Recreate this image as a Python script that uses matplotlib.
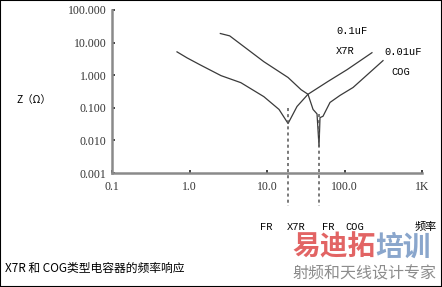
import numpy as np
import matplotlib.pyplot as plt
from matplotlib.patches import Rectangle

# impedance curves (frequency in MHz, |Z| in ohm)
x7r_freq = [0.69, 0.93, 1.36, 2.55, 4.6, 9.1, 14.3, 18.7, 24.4, 33.8, 61, 108, 226]
x7r_z = [5.2, 3.4, 2.1, 0.97, 0.59, 0.22, 0.089, 0.033, 0.11, 0.26, 0.64, 1.48, 4.9]

cog_freq = [2.5, 3.3, 9.1, 18.7, 27.5, 33.8, 39.3, 44.2, 46.9, 48.3, 52.8, 65, 87.5, 129, 314]
cog_z = [19.0, 16.1, 2.6, 0.85, 0.36, 0.26, 0.089, 0.065, 0.0066, 0.05, 0.055, 0.146, 0.24, 0.42, 2.8]

fr_x7r = 18.7
fr_cog = 46.9

xticks = [0.1, 1, 10, 100, 1000]
xtick_labels = ["0.1", "1.0", "10.0", "100.0", "1K"]
yticks = [0.001, 0.01, 0.1, 1, 10, 100]
ytick_labels = ["0.001", "0.010", "0.100", "1.000", "10.000", "100.000"]

CJK = ["Noto Sans CJK SC", "DejaVu Sans"]
MONO = "Liberation Mono"
SERIF = "Liberation Serif"

fig = plt.figure(figsize=(4.42, 2.87), dpi=100)
fig.patch.set_facecolor("white")
ax = fig.add_axes([112 / 442, 1 - 173 / 287, 310 / 442, 163 / 287])

ax.plot(x7r_freq, x7r_z, color="#3a3a3a", lw=0.9)
ax.plot(cog_freq, cog_z, color="#3a3a3a", lw=0.9)

# resonance markers, running below the axis
ax.plot([fr_x7r, fr_x7r], [0.1, 1e-4], color="#555555", lw=1.1,
        ls=(0, (2, 2)), clip_on=False)
ax.plot([fr_cog, fr_cog], [0.065, 1e-4], color="#555555", lw=1.1,
        ls=(0, (2, 2)), clip_on=False)

ax.set_xscale("log")
ax.set_yscale("log")
ax.set_xlim(0.1, 1000)
ax.set_ylim(0.001, 100)
ax.set_xticks(xticks)
ax.set_xticklabels(xtick_labels, fontfamily=SERIF, fontsize=8.5, color="#333333")
ax.set_yticks(yticks)
ax.set_yticklabels(ytick_labels, fontfamily=SERIF, fontsize=8.5, color="#333333")
ax.minorticks_off()
ax.tick_params(direction="in", length=2, width=1.2, color="#222222", pad=4)
ax.tick_params(axis="x", pad=6)

for s in ("top", "right"):
    ax.spines[s].set_visible(False)
for s in ("left", "bottom"):
    ax.spines[s].set_color("#8a8a8a")
    ax.spines[s].set_linewidth(1.8)

# curve labels
fig.text(336 / 442, 1 - 31 / 287, "0.1uF", fontfamily=MONO, fontsize=7.5, va="center")
fig.text(336 / 442, 1 - 51 / 287, "X7R", fontfamily=MONO, fontsize=7.5, va="center")
fig.text(384 / 442, 1 - 52 / 287, "0.01uF", fontfamily=MONO, fontsize=7.5, va="center")
fig.text(391 / 442, 1 - 72 / 287, "COG", fontfamily=MONO, fontsize=7.5, va="center")

fig.text(34 / 442, 1 - 100 / 287, "Z（Ω）", family=CJK, fontsize=7.5,
         ha="center", va="center")

# labels under the axis
for xp, s in [(260, "FR"), (287, "X7R"), (322, "FR"), (345, "COG")]:
    fig.text(xp / 442, 1 - 227 / 287, s, fontfamily=MONO, fontsize=7.5, va="center")
fig.text(437 / 442, 1 - 227 / 287, "频率", family=CJK, fontsize=8,
         ha="right", va="center")

fig.text(5 / 442, 1 - 268 / 287, "X7R 和 COG类型电容器的频率响应", family=CJK,
         fontsize=8.5, va="center")

# site watermark
fig.text(292 / 442, 1 - 248 / 287, "易迪拓", family=CJK, fontsize=20,
         fontweight="bold", color="#e26464", va="center")
fig.text(375 / 442, 1 - 248 / 287, "培训", family=CJK, fontsize=20,
         fontweight="bold", color="#8aa6cc", va="center")
fig.text(364 / 442, 1 - 274 / 287, "射频和天线设计专家", family=CJK, fontsize=11.5,
         color="#8c8c8c", va="center", ha="center")

fig.patches.append(Rectangle((0, 0), 1, 1, transform=fig.transFigure,
                             fill=False, edgecolor="black", lw=1.5))

fig.savefig("out.png", dpi=100)
